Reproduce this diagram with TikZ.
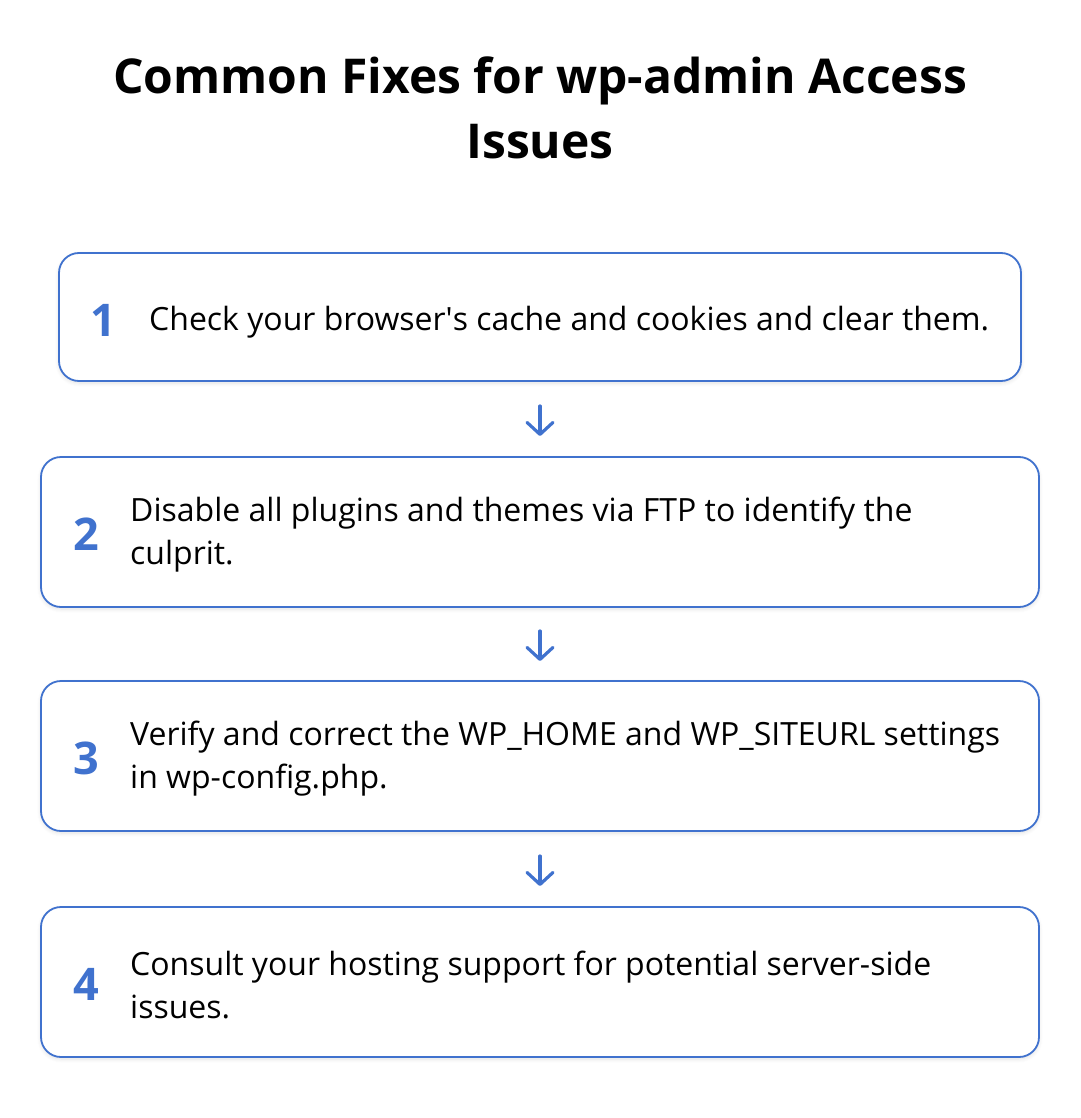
\documentclass[tikz,border=0pt]{standalone}
\usepackage{fontspec}
\setmainfont{Open Sans}
\usetikzlibrary{arrows.meta,shadows.blur}
\definecolor{accent}{RGB}{64,114,206}
\begin{document}
\begin{tikzpicture}[x=1pt,y=-1pt,
  stepbox/.style={draw=accent,line width=1.8pt,rounded corners=20pt,fill=white,
     blur shadow={shadow blur steps=6,shadow xshift=0pt,shadow yshift=-2pt,shadow opacity=12,shadow blur radius=4pt}},
  num/.style={font=\fontsize{45}{45}\selectfont\bfseries,text=accent,anchor=center,inner sep=0},
  txt/.style={font=\fontsize{32}{43}\selectfont,anchor=west,align=left,inner sep=0,text=black},
  arr/.style={draw=accent,line width=3.2pt,line cap=round,-{Straight Barb[length=12pt,width=26pt,line width=3.2pt,round]}},
  ttl/.style={font=\fontsize{48}{65}\selectfont\bfseries,align=center,inner sep=0}]
\useasboundingbox (0,0) rectangle (1080,1118);
\node[ttl] (title) at (540,108) {Common Fixes for wp-admin Access\\Issues};
% boxes
\draw[stepbox] (59,253) rectangle (1021,381);
\draw[stepbox] (41,457) rectangle (1039,607);
\draw[stepbox] (41,681) rectangle (1039,831);
\draw[stepbox] (41,907) rectangle (1039,1057);
% numbers
\node[num] (n1) at (103,320) {1};
\node[num] (n2) at (86,534) {2};
\node[num] (n3) at (86,758) {3};
\node[num] (n4) at (86,984) {4};
% texts
\node[txt] (t1) at (149,322) {Check your browser\textquotesingle s cache and cookies and clear them.};
\node[txt] (t2) at (130,535) {Disable all plugins and themes via FTP to identify the\\culprit.};
\node[txt] (t3) at (130,759) {Verify and correct the WP\_HOME and WP\_SITEURL settings\\in wp-config.php.};
\node[txt] (t4) at (130,985) {Consult your hosting support for potential server-side\\issues.};
% arrows
\coordinate (a1s) at (540,406); \coordinate (a1e) at (540,436);
\coordinate (a2s) at (540,631); \coordinate (a2e) at (540,661);
\coordinate (a3s) at (540,856); \coordinate (a3e) at (540,886);
\draw[arr] (a1s) -- (a1e);
\draw[arr] (a2s) -- (a2e);
\draw[arr] (a3s) -- (a3e);
\end{tikzpicture}
\end{document}
